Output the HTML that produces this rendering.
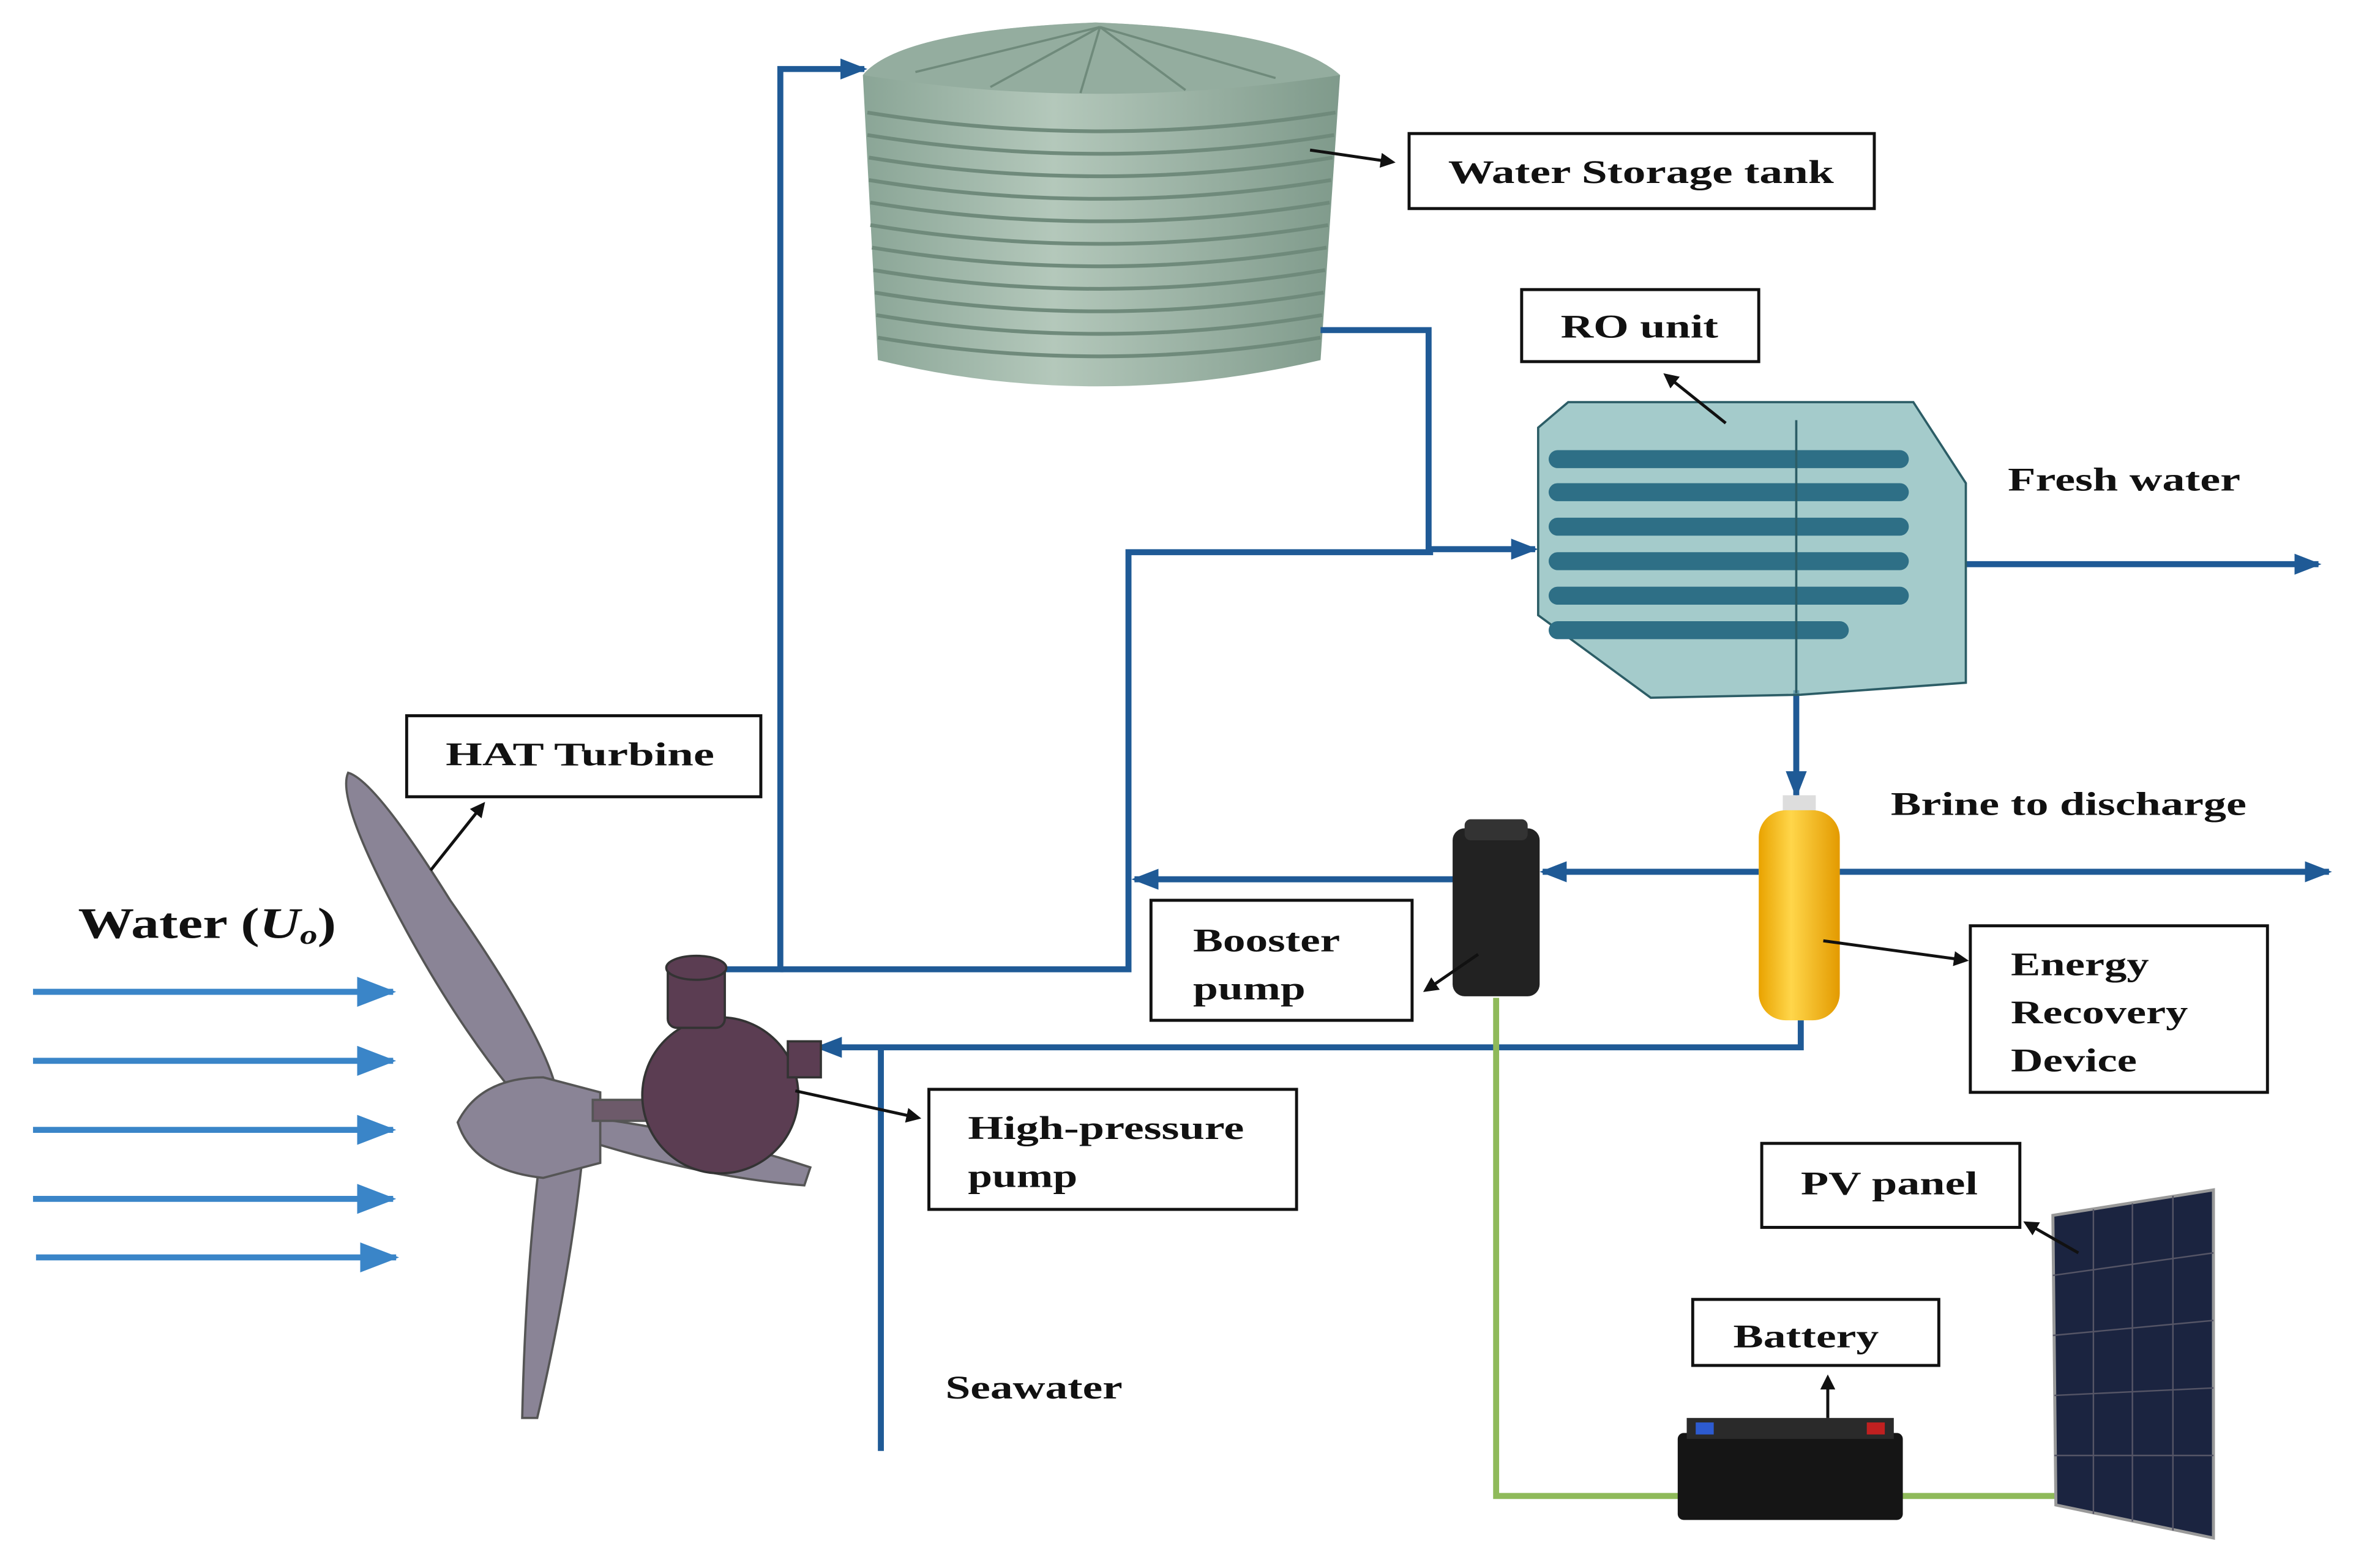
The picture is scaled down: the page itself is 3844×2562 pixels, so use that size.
<!DOCTYPE html>
<html><head><meta charset="utf-8"><style>
html,body{margin:0;padding:0;background:#fff;}
svg{display:block;}
text{font-family:"Liberation Serif",serif;font-weight:bold;fill:#111;}
</style></head><body>
<svg width="3844" height="2562" viewBox="0 0 1568 1045" preserveAspectRatio="none" xmlns="http://www.w3.org/2000/svg">
<defs>
<marker id="ab" markerWidth="10" markerHeight="10" refX="8" refY="5" orient="auto" markerUnits="userSpaceOnUse"><path d="M0,0 L10,5 L0,10 z" fill="#111"/></marker>
<marker id="ap" markerWidth="18" markerHeight="14" refX="16" refY="7" orient="auto" markerUnits="userSpaceOnUse"><path d="M0,0 L18,7 L0,14 z" fill="#1f5a96"/></marker>
<marker id="aw" markerWidth="26" markerHeight="20" refX="24" refY="10" orient="auto" markerUnits="userSpaceOnUse"><path d="M0,0 L26,10 L0,20 z" fill="#3a85c8"/></marker>
<linearGradient id="tg" x1="0" x2="1"><stop offset="0" stop-color="#8aa596"/><stop offset="0.4" stop-color="#b4c8bb"/><stop offset="1" stop-color="#7f9a8b"/></linearGradient>
<linearGradient id="yg" x1="0" x2="1"><stop offset="0" stop-color="#e9a300"/><stop offset="0.4" stop-color="#ffd64a"/><stop offset="1" stop-color="#e39a00"/></linearGradient>
</defs>

<path d="M575,50 Q600,20 730,15 Q860,20 893,50 L880,240 Q730,275 585,240 Z" fill="url(#tg)"/>
<path d="M575,50 Q730,75 893,50 Q860,20 730,15 Q600,20 575,50Z" fill="#94ad9f"/>
<g stroke="#6f8a7b" stroke-width="1.5">
<line x1="733" y1="18" x2="610" y2="48"/><line x1="733" y1="18" x2="660" y2="58"/><line x1="733" y1="18" x2="720" y2="62"/><line x1="733" y1="18" x2="790" y2="60"/><line x1="733" y1="18" x2="850" y2="52"/>
</g>
<g stroke="#6f8a7b" stroke-width="2.5" fill="none">
<path d="M578,75 Q733,100 890,75"/><path d="M578,90 Q733,115 889,90"/><path d="M579,105 Q733,130 888,105"/><path d="M579,120 Q733,145 887,120"/><path d="M580,135 Q733,160 886,135"/><path d="M580,150 Q733,175 885,150"/><path d="M581,165 Q733,190 884,165"/><path d="M582,180 Q733,205 883,180"/><path d="M583,195 Q733,220 882,195"/><path d="M584,210 Q733,235 881,210"/><path d="M585,225 Q733,250 880,225"/>
</g>

<g stroke="#1f5a96" stroke-width="4" fill="none">
<polyline points="470,646 520,646 520,46 576,46" marker-end="url(#ap)"/>
<polyline points="880,220 952,220 952,366 1023,366" marker-end="url(#ap)"/>
<polyline points="520,646 752,646 752,368 955,368"/>
<polyline points="1197,460 1197,530" marker-end="url(#ap)"/>
<polyline points="1310,376 1545,376" marker-end="url(#ap)"/>
<polyline points="1226,581 1552,581" marker-end="url(#ap)"/>
<polyline points="1172,581 1028,581" marker-end="url(#ap)"/>
<polyline points="970,586 756,586" marker-end="url(#ap)"/>
<polyline points="1200,680 1200,698 545,698" marker-end="url(#ap)"/>
<polyline points="587,698 587,967"/>
</g>

<polygon points="1025,285 1045,268 1275,268 1310,322 1310,455 1200,463 1100,465 1025,410" fill="#86b9b9" fill-opacity="0.75" stroke="#2c5d66" stroke-width="1.5"/>
<g fill="#2e6f86">
<rect x="1032" y="300" width="240" height="12" rx="6"/><rect x="1032" y="322" width="240" height="12" rx="6"/><rect x="1032" y="345" width="240" height="12" rx="6"/><rect x="1032" y="368" width="240" height="12" rx="6"/><rect x="1032" y="391" width="240" height="12" rx="6"/><rect x="1032" y="414" width="200" height="12" rx="6"/>
</g>
<line x1="1197" y1="280" x2="1197" y2="462" stroke="#2c5d66" stroke-width="1.5"/>

<rect x="1188" y="530" width="22" height="14" fill="#ddd"/>
<rect x="1172" y="540" width="54" height="140" rx="18" fill="url(#yg)"/>

<rect x="968" y="552" width="58" height="112" rx="8" fill="#222"/>
<rect x="976" y="546" width="42" height="14" rx="4" fill="#333"/>

<g fill="#8a8496" stroke="#555" stroke-width="1.5">
<path d="M232,515 Q250,520 300,600 Q370,700 372,735 L352,740 Q300,680 255,590 Q225,530 232,515Z"/>
<path d="M395,745 Q470,755 540,778 L536,790 Q470,785 390,760Z"/>
<path d="M360,770 L388,772 Q380,850 358,945 L348,945 Q350,850 360,770Z"/>
<path d="M305,748 Q320,718 362,718 L400,728 L400,775 L362,785 Q315,780 305,748Z"/>
<rect x="395" y="733" width="70" height="14" fill="#6d5a6a"/>
</g>
<g fill="#5b3d52" stroke="#333" stroke-width="1.5">
<ellipse cx="480" cy="730" rx="52" ry="52"/>
<rect x="445" y="640" width="38" height="45" rx="6"/>
<ellipse cx="464" cy="645" rx="20" ry="8"/>
<rect x="525" y="694" width="22" height="24"/>
</g>

<g stroke="#3a85c8" stroke-width="4">
<line x1="22" y1="661" x2="262" y2="661" marker-end="url(#aw)"/>
<line x1="22" y1="707" x2="262" y2="707" marker-end="url(#aw)"/>
<line x1="22" y1="753" x2="262" y2="753" marker-end="url(#aw)"/>
<line x1="22" y1="799" x2="262" y2="799" marker-end="url(#aw)"/>
<line x1="24" y1="838" x2="264" y2="838" marker-end="url(#aw)"/>
</g>
<text x="52" y="625" font-size="29" textLength="172" lengthAdjust="spacingAndGlyphs">Water (<tspan font-style="italic">U</tspan><tspan font-style="italic" font-size="18" dy="4">o</tspan><tspan dy="-4">)</tspan></text>

<g stroke="#8fba5a" stroke-width="4" fill="none">
<polyline points="997,665 997,997 1162,997"/>
<polyline points="1255,997 1378,997"/>
</g>

<rect x="1118" y="955" width="150" height="58" rx="4" fill="#151515"/>
<rect x="1124" y="945" width="138" height="14" fill="#2a2a2a"/>
<rect x="1130" y="948" width="12" height="8" fill="#2d5bd0"/>
<rect x="1244" y="948" width="12" height="8" fill="#c02020"/>

<polygon points="1368,810 1475,793 1475,1025 1370,1003" fill="#1b2440" stroke="#999" stroke-width="2"/>
<g stroke="#556" stroke-width="1">
<line x1="1395" y1="806" x2="1395" y2="1009"/><line x1="1421" y1="802" x2="1421" y2="1014"/><line x1="1448" y1="797" x2="1448" y2="1020"/>
<line x1="1368" y1="850" x2="1475" y2="835"/><line x1="1368" y1="890" x2="1475" y2="880"/><line x1="1369" y1="930" x2="1475" y2="925"/><line x1="1369" y1="970" x2="1475" y2="970"/>
</g>

<g fill="#fff" stroke="#111" stroke-width="2">
<rect x="939" y="89" width="310" height="50"/>
<rect x="1014" y="193" width="158" height="48"/>
<rect x="271" y="477" width="236" height="54"/>
<rect x="767" y="600" width="174" height="80"/>
<rect x="1313" y="617" width="198" height="111"/>
<rect x="619" y="726" width="245" height="80"/>
<rect x="1174" y="762" width="172" height="56"/>
<rect x="1128" y="866" width="164" height="44"/>
</g>
<g font-size="22" lengthAdjust="spacingAndGlyphs">
<text x="965" y="122" textLength="257" lengthAdjust="spacingAndGlyphs">Water Storage tank</text>
<text x="1040" y="225" textLength="105" lengthAdjust="spacingAndGlyphs">RO unit</text>
<text x="297" y="510" textLength="179" lengthAdjust="spacingAndGlyphs">HAT Turbine</text>
<text x="795" y="634" textLength="98" lengthAdjust="spacingAndGlyphs">Booster</text><text x="795" y="666" textLength="75" lengthAdjust="spacingAndGlyphs">pump</text>
<text x="1340" y="650" textLength="92" lengthAdjust="spacingAndGlyphs">Energy</text><text x="1340" y="682" textLength="118" lengthAdjust="spacingAndGlyphs">Recovery</text><text x="1340" y="714" textLength="84" lengthAdjust="spacingAndGlyphs">Device</text>
<text x="645" y="759" textLength="184" lengthAdjust="spacingAndGlyphs">High-pressure</text><text x="645" y="791" textLength="73" lengthAdjust="spacingAndGlyphs">pump</text>
<text x="1200" y="796" textLength="118" lengthAdjust="spacingAndGlyphs">PV panel</text>
<text x="1155" y="898" textLength="97" lengthAdjust="spacingAndGlyphs">Battery</text>
<text x="1338" y="327" textLength="155" lengthAdjust="spacingAndGlyphs">Fresh water</text>
<text x="1260" y="543" textLength="237" lengthAdjust="spacingAndGlyphs">Brine to discharge</text>
<text x="630" y="932" textLength="118" lengthAdjust="spacingAndGlyphs">Seawater</text>
</g>

<g stroke="#111" stroke-width="2" fill="none">
<line x1="873" y1="100" x2="928" y2="108" marker-end="url(#ab)"/>
<line x1="1150" y1="282" x2="1110" y2="250" marker-end="url(#ab)"/>
<line x1="287" y1="580" x2="322" y2="536" marker-end="url(#ab)"/>
<line x1="985" y1="636" x2="950" y2="660" marker-end="url(#ab)"/>
<line x1="1215" y1="627" x2="1310" y2="640" marker-end="url(#ab)"/>
<line x1="530" y1="727" x2="612" y2="745" marker-end="url(#ab)"/>
<line x1="1385" y1="835" x2="1350" y2="815" marker-end="url(#ab)"/>
<line x1="1218" y1="945" x2="1218" y2="918" marker-end="url(#ab)"/>
</g>
</svg>
</body></html>
